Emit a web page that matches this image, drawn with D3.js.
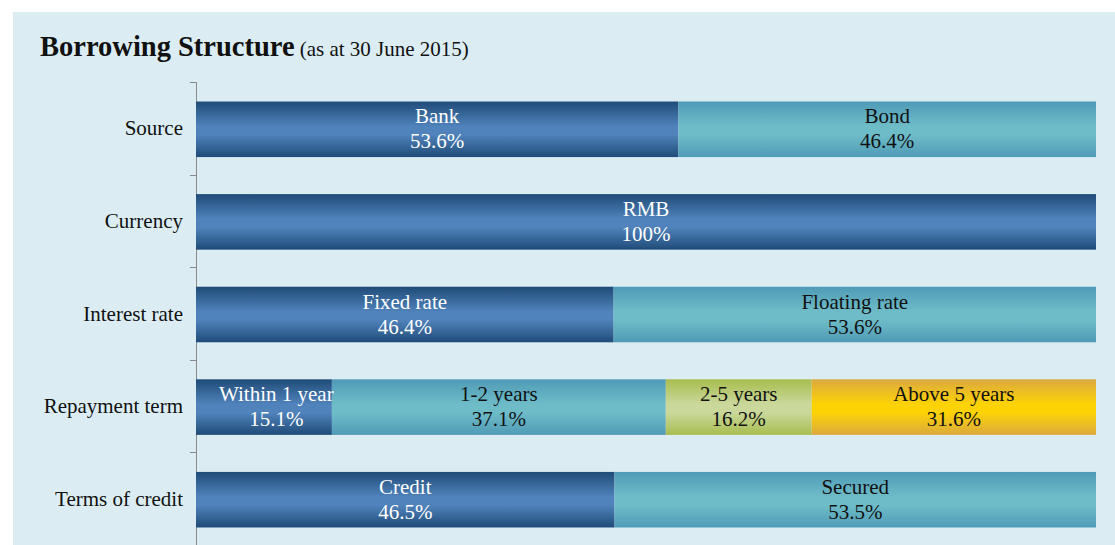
<!DOCTYPE html>
<html>
<head>
<meta charset="utf-8">
<script src="https://cdn.jsdelivr.net/npm/d3@7"></script>
<style>
	html, body { margin: 0; padding: 0; background: #ffffff; }
	svg { display: block; font-family: "Liberation Serif", "Times New Roman", serif; }
</style>
</head>
<body>
<svg id="chart" width="1115" height="545"></svg>
<script>
// categories, top to bottom
const categories = ['Source', 'Currency', 'Interest rate', 'Repayment term', 'Terms of credit'];

// segment labels and shares (%) per category
const segmentLabels = [
	['Bank', 'Bond'],
	['RMB'],
	['Fixed rate', 'Floating rate'],
	['Within 1 year', '1-2 years', '2-5 years', 'Above 5 years'],
	['Credit', 'Secured']
];
const segmentValues = [
	[53.6, 46.4],
	[100],
	[46.4, 53.6],
	[15.1, 37.1, 16.2, 31.6],
	[46.5, 53.5]
];
const valueLabels = [
	['53.6%', '46.4%'],
	['100%'],
	['46.4%', '53.6%'],
	['15.1%', '37.1%', '16.2%', '31.6%'],
	['46.5%', '53.5%']
];
// colour index per segment: 0 blue, 1 teal, 2 green, 3 gold
const segmentColors = [
	[0, 1],
	[0],
	[0, 1],
	[0, 1, 2, 3],
	[0, 1]
];

const palette = [
	{ edge: '#1f4b78', mid: '#5083bb', text: '#ffffff' },
	{ edge: '#4f9bb7', mid: '#6ebcc8', text: '#111111' },
	{ edge: '#a8bd4e', mid: '#cad89c', text: '#111111' },
	{ edge: '#dba93e', mid: '#fdd306', text: '#111111' }
];

const width = 1115, height = 545;
const margin = { left: 196, right: 19, top: 82, bottom: 0 };
const labelPad = 23; // min gap between a bar label and the segment's left edge

const svg = d3.select('#chart');

// panel background
svg.append('rect')
	.attr('x', 13).attr('y', 12)
	.attr('width', width - 13).attr('height', height - 12)
	.attr('fill', '#dbedf3');

// gradients
const defs = svg.append('defs');
palette.forEach(function(p, i) {
	let g = defs.append('linearGradient')
		.attr('id', 'grad' + i)
		.attr('x1', 0).attr('y1', 0).attr('x2', 0).attr('y2', 1);
	g.append('stop').attr('offset', '0%').attr('stop-color', p.edge);
	g.append('stop').attr('offset', '45%').attr('stop-color', p.mid);
	g.append('stop').attr('offset', '60%').attr('stop-color', p.mid);
	g.append('stop').attr('offset', '100%').attr('stop-color', p.edge);
});

// title
const title = svg.append('text')
	.attr('x', 40).attr('y', 56)
	.attr('fill', '#111111');
title.append('tspan')
	.attr('font-size', 28.5).attr('font-weight', 'bold')
	.text('Borrowing Structure');
title.append('tspan')
	.attr('font-size', 21).attr('dx', 5)
	.text('(as at 30 June 2015)');

const x = d3.scaleLinear()
	.domain([0, 100])
	.range([margin.left, width - margin.right]);

const y = d3.scaleBand()
	.domain(categories)
	.range([margin.top, height - margin.bottom])
	.paddingInner(0.4)
	.paddingOuter(0.2);

// axis line and ticks at band boundaries
const step = y.step();
const boundaries = d3.range(categories.length + 1).map(function(i) { return margin.top + i * step; });

svg.append('line')
	.attr('x1', margin.left + 0.5).attr('x2', margin.left + 0.5)
	.attr('y1', margin.top).attr('y2', height)
	.attr('stroke', '#8a8a8a').attr('stroke-width', 1);

svg.selectAll('.tick-mark')
	.data(boundaries)
	.join('line')
	.attr('class', 'tick-mark')
	.attr('x1', margin.left - 6).attr('x2', margin.left)
	.attr('y1', function(d) { return Math.round(d) + 0.5; })
	.attr('y2', function(d) { return Math.round(d) + 0.5; })
	.attr('stroke', '#8a8a8a');

// category labels
svg.selectAll('.cat-label')
	.data(categories)
	.join('text')
	.attr('class', 'cat-label')
	.attr('x', margin.left - 13)
	.attr('y', function(d) { return y(d) + y.bandwidth() / 2 + 7; })
	.attr('text-anchor', 'end')
	.attr('font-size', 21)
	.attr('fill', '#111111')
	.text(function(d) { return d; });

// build segments
let segments = [];
categories.forEach(function(cat, i) {
	let acc = 0;
	segmentValues[i].forEach(function(v, j) {
		segments.push({
			cat: cat,
			x0: acc,
			x1: acc + v,
			label: segmentLabels[i][j],
			valueLabel: valueLabels[i][j],
			color: segmentColors[i][j]
		});
		acc += v;
	});
});

const bars = svg.append('g');

bars.selectAll('rect')
	.data(segments)
	.join('rect')
	.attr('x', function(d) { return x(d.x0); })
	.attr('y', function(d) { return y(d.cat) + 1; })
	.attr('width', function(d) { return x(d.x1) - x(d.x0); })
	.attr('height', y.bandwidth())
	.attr('fill', function(d) { return 'url(#grad' + d.color + ')'; });

const labels = bars.selectAll('.seg-label')
	.data(segments)
	.join('text')
	.attr('class', 'seg-label')
	.attr('text-anchor', 'middle')
	.attr('font-size', 21)
	.attr('fill', function(d) { return palette[d.color].text; })
	.attr('y', function(d) { return y(d.cat) + y.bandwidth() / 2 - 5; });

labels.append('tspan')
	.attr('class', 'l1')
	.text(function(d) { return d.label; });
labels.append('tspan')
	.attr('class', 'l2')
	.attr('dy', 25)
	.text(function(d) { return d.valueLabel; });

// centre labels, keeping the widest line at least labelPad from the segment start
labels.each(function(d) {
	let node = d3.select(this);
	let w = 0;
	node.selectAll('tspan').each(function() {
		w = Math.max(w, this.getComputedTextLength());
	});
	let cx = (x(d.x0) + x(d.x1)) / 2;
	if (cx - w / 2 < x(d.x0) + labelPad) cx = x(d.x0) + labelPad + w / 2;
	node.attr('x', cx);
	node.selectAll('tspan').attr('x', cx);
});
</script>
</body>
</html>
